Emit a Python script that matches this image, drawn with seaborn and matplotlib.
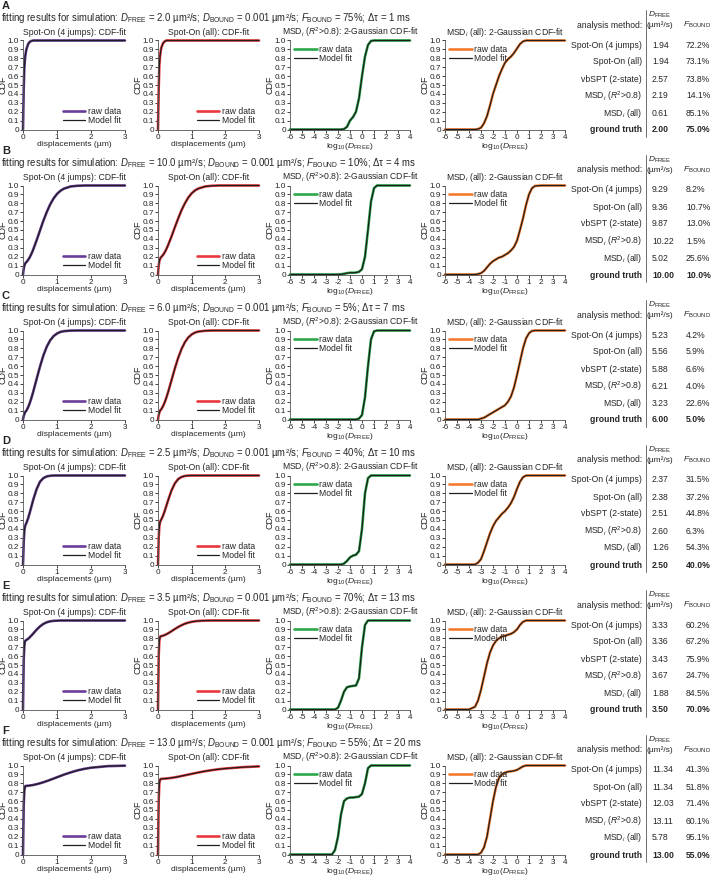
import matplotlib
matplotlib.use("Agg")
import matplotlib.pyplot as plt
import seaborn as sns

# ---------------- data ----------------
ROW_LETTERS = ["A", "B", "C", "D", "E", "F"]
SIM_D_FREE = ["2.0", "10.0", "6.0", "2.5", "3.5", "13.0"]
SIM_F_BOUND = ["75%", "10%", "5%", "40%", "70%", "55%"]
SIM_DT = ["1", "4", "7", "10", "13", "20"]

METHODS = ["Spot-On (4 jumps)", "Spot-On (all)", "vbSPT (2-state)",
           r"MSD$_i$ ($R^2$>0.8)", r"MSD$_i$ (all)", "ground truth"]
EST_D_FREE = [
    ["1.94", "1.94", "2.57", "2.19", "0.61", "2.00"],
    ["9.29", "9.36", "9.87", "10.22", "5.02", "10.00"],
    ["5.23", "5.56", "5.88", "6.21", "3.23", "6.00"],
    ["2.37", "2.38", "2.51", "2.60", "1.26", "2.50"],
    ["3.33", "3.36", "3.43", "3.67", "1.88", "3.50"],
    ["11.34", "11.34", "12.03", "13.11", "5.78", "13.00"],
]
EST_F_BOUND = [
    ["72.2%", "73.1%", "73.8%", "14.1%", "85.1%", "75.0%"],
    ["8.2%", "10.7%", "13.0%", "1.5%", "25.6%", "10.0%"],
    ["4.2%", "5.9%", "6.6%", "4.0%", "22.6%", "5.0%"],
    ["31.5%", "37.2%", "44.8%", "6.3%", "54.3%", "40.0%"],
    ["60.2%", "67.2%", "75.9%", "24.7%", "84.5%", "70.0%"],
    ["41.3%", "51.8%", "71.4%", "60.1%", "95.1%", "55.0%"],
]

# displacement CDFs (x in um)
DISP_X = [0, 0.01, 0.02, 0.04, 0.06, 0.08, 0.1, 0.15, 0.2, 0.25, 0.3, 0.4, 0.5,
          0.6, 0.7, 0.8, 0.9, 1.0, 1.1, 1.2, 1.4, 1.6, 1.8, 2.0, 2.5, 3.0]
JUMP4_A = [0, 0.2, 0.45, 0.7, 0.8, 0.86, 0.9, 0.96, 0.985, 0.995, 1.0,
           1, 1, 1, 1, 1, 1, 1, 1, 1, 1, 1, 1, 1, 1, 1]
JUMPALL_A = [0, 0.2, 0.45, 0.72, 0.82, 0.88, 0.92, 0.97, 0.99, 1.0, 1.0,
             1, 1, 1, 1, 1, 1, 1, 1, 1, 1, 1, 1, 1, 1, 1]
JUMP4_B = [0, 0.03, 0.06, 0.1, 0.12, 0.132, 0.139, 0.163, 0.195, 0.234, 0.28, 0.384, 0.495,
           0.605, 0.703, 0.788, 0.855, 0.905, 0.94, 0.964, 0.989, 0.997, 1, 1, 1, 1]
JUMPALL_B = [0, 0.05, 0.1, 0.15, 0.175, 0.19, 0.198, 0.22, 0.25, 0.287, 0.33, 0.426, 0.53,
             0.63, 0.724, 0.8, 0.865, 0.912, 0.945, 0.966, 0.989, 0.997, 1, 1, 1, 1]
JUMP4_C = [0, 0.02, 0.04, 0.06, 0.081, 0.09, 0.1, 0.137, 0.186, 0.245, 0.311, 0.454, 0.595,
           0.72, 0.819, 0.89, 0.937, 0.966, 0.984, 0.992, 0.999, 1, 1, 1, 1, 1]
JUMPALL_C = [0, 0.025, 0.05, 0.075, 0.1, 0.107, 0.117, 0.15, 0.194, 0.247, 0.307, 0.439, 0.573,
             0.694, 0.793, 0.869, 0.922, 0.956, 0.977, 0.988, 0.997, 1, 1, 1, 1, 1]
JUMP4_D = [0, 0.1, 0.25, 0.38, 0.43, 0.45, 0.466, 0.519, 0.584, 0.655, 0.726, 0.847, 0.93,
           0.971, 0.99, 0.997, 1, 1, 1, 1, 1, 1, 1, 1, 1, 1]
JUMPALL_D = [0, 0.12, 0.3, 0.43, 0.475, 0.494, 0.507, 0.548, 0.602, 0.661, 0.721, 0.831, 0.911,
             0.96, 0.984, 0.995, 0.999, 1, 1, 1, 1, 1, 1, 1, 1, 1]
JUMP4_E = [0, 0.25, 0.55, 0.72, 0.769, 0.777, 0.781, 0.794, 0.812, 0.832, 0.853, 0.897, 0.934,
           0.962, 0.98, 0.991, 0.996, 0.998, 1, 1, 1, 1, 1, 1, 1, 1]
JUMPALL_E = [0, 0.27, 0.6, 0.77, 0.817, 0.823, 0.824, 0.83, 0.837, 0.846, 0.856, 0.879, 0.904,
             0.927, 0.947, 0.964, 0.976, 0.985, 0.991, 0.995, 0.999, 1, 1, 1, 1, 1]
JUMP4_F = [0, 0.25, 0.55, 0.72, 0.765, 0.771, 0.771, 0.773, 0.775, 0.778, 0.781, 0.79, 0.8,
           0.812, 0.825, 0.839, 0.853, 0.868, 0.882, 0.897, 0.922, 0.945, 0.962, 0.975, 0.993, 0.998]
JUMPALL_F = [0, 0.3, 0.6, 0.8, 0.84, 0.848, 0.85, 0.851, 0.853, 0.854, 0.856, 0.861, 0.867,
             0.874, 0.882, 0.89, 0.898, 0.906, 0.914, 0.922, 0.936, 0.948, 0.958, 0.966, 0.981, 0.99]

# MSD_i CDFs (x = log10 D_FREE)
LOGD_X = [-6, -5, -4, -3.5, -3.25, -3, -2.75, -2.5, -2.25, -2, -1.75, -1.5, -1.25, -1,
          -0.75, -0.5, -0.25, 0, 0.25, 0.5, 0.75, 1, 1.25, 1.5, 2, 3, 4]
MSDR2_A = [0, 0, 0, 0, 0, 0, 0, 0, 0, 0, 0, 0.005, 0.03, 0.1,
           0.14, 0.2, 0.35, 0.6, 0.82, 0.95, 0.995, 1, 1, 1, 1, 1, 1]
MSDALL_A = [0, 0, 0, 0, 0.005, 0.02, 0.07, 0.15, 0.27, 0.4, 0.5, 0.6, 0.68, 0.75,
            0.79, 0.82, 0.86, 0.91, 0.96, 0.99, 1, 1, 1, 1, 1, 1, 1]
MSDR2_B = [0, 0, 0, 0, 0, 0, 0, 0, 0, 0, 0.003, 0.008, 0.015, 0.02,
           0.02, 0.022, 0.03, 0.06, 0.2, 0.5, 0.82, 0.97, 1, 1, 1, 1, 1]
MSDALL_B = [0, 0, 0, 0, 0.005, 0.015, 0.04, 0.08, 0.12, 0.15, 0.17, 0.19, 0.2, 0.22,
            0.24, 0.27, 0.31, 0.38, 0.5, 0.63, 0.78, 0.9, 0.97, 0.995, 1, 1, 1]
MSDR2_C = [0, 0, 0, 0, 0, 0, 0, 0, 0, 0, 0, 0, 0, 0,
           0, 0, 0.01, 0.05, 0.25, 0.6, 0.9, 0.99, 1, 1, 1, 1, 1]
MSDALL_C = [0, 0, 0, 0, 0, 0.01, 0.02, 0.04, 0.06, 0.08, 0.1, 0.12, 0.14, 0.16,
            0.2, 0.26, 0.36, 0.5, 0.65, 0.8, 0.91, 0.97, 0.995, 1, 1, 1, 1]
MSDR2_D = [0, 0, 0, 0, 0, 0, 0, 0, 0, 0, 0, 0.01, 0.04, 0.08,
           0.1, 0.11, 0.15, 0.4, 0.8, 0.97, 1, 1, 1, 1, 1, 1, 1]
MSDALL_D = [0, 0, 0, 0, 0.02, 0.06, 0.15, 0.25, 0.35, 0.43, 0.49, 0.53, 0.57, 0.6,
            0.64, 0.69, 0.76, 0.85, 0.93, 0.98, 1, 1, 1, 1, 1, 1, 1]
MSDR2_E = [0, 0, 0, 0, 0, 0, 0, 0, 0, 0.02, 0.1, 0.2, 0.25, 0.26,
           0.265, 0.27, 0.35, 0.7, 0.95, 1, 1, 1, 1, 1, 1, 1, 1]
MSDALL_E = [0, 0, 0, 0.03, 0.1, 0.22, 0.37, 0.52, 0.64, 0.72, 0.77, 0.8, 0.82, 0.83,
            0.84, 0.85, 0.87, 0.9, 0.95, 0.985, 1, 1, 1, 1, 1, 1, 1]
MSDR2_F = [0, 0, 0, 0, 0, 0, 0, 0, 0.05, 0.2, 0.45, 0.6, 0.63, 0.64,
           0.64, 0.645, 0.65, 0.68, 0.8, 0.97, 1, 1, 1, 1, 1, 1, 1]
MSDALL_F = [0, 0, 0, 0, 0, 0.02, 0.08, 0.2, 0.4, 0.6, 0.76, 0.86, 0.9, 0.92,
            0.93, 0.935, 0.94, 0.95, 0.97, 0.99, 1, 1, 1, 1, 1, 1, 1]

JUMP4 = [JUMP4_A, JUMP4_B, JUMP4_C, JUMP4_D, JUMP4_E, JUMP4_F]
JUMPALL = [JUMPALL_A, JUMPALL_B, JUMPALL_C, JUMPALL_D, JUMPALL_E, JUMPALL_F]
MSDR2 = [MSDR2_A, MSDR2_B, MSDR2_C, MSDR2_D, MSDR2_E, MSDR2_F]
MSDALL = [MSDALL_A, MSDALL_B, MSDALL_C, MSDALL_D, MSDALL_E, MSDALL_F]

PANEL_TITLES = ["Spot-On (4 jumps): CDF-fit", "Spot-On (all): CDF-fit",
                r"MSD$_i$ ($R^2$>0.8): 2-Gaussian CDF-fit", r"MSD$_i$ (all): 2-Gaussian CDF-fit"]
PANEL_COLORS = ["#6a3d9a", "#e8383d", "#2aa84a", "#f47a2e"]
Y_TICKS = [0, 0.1, 0.2, 0.3, 0.4, 0.5, 0.6, 0.7, 0.8, 0.9, 1.0]
Y_TICKLABELS = ["0", "0.1", "0.2", "0.3", "0.4", "0.5", "0.6", "0.7", "0.8", "0.9", "1.0"]
DISP_TICKS = [0, 1, 2, 3]
LOGD_TICKS = [-6, -5, -4, -3, -2, -1, 0, 1, 2, 3, 4]

# ---------------- style ----------------
sns.set_theme(style="ticks")
plt.rcParams["font.family"] = ["Liberation Sans", "DejaVu Sans"]
plt.rcParams["axes.unicode_minus"] = False
plt.rcParams["mathtext.fontset"] = "custom"
plt.rcParams["mathtext.rm"] = "Liberation Sans"
plt.rcParams["mathtext.it"] = "Liberation Sans:italic"
plt.rcParams["mathtext.bf"] = "Liberation Sans:bold"

W, H = 711, 876
fig = plt.figure(figsize=(W / 100, H / 100), dpi=100)


def px_axes(left, top, width, height):
    return fig.add_axes([left / W, 1 - (top + height) / H, width / W, height / H])


def px_text(x, y, s, **kw):
    fig.text(x / W, 1 - y / H, s, **kw)


PANEL_X = [(23, 102), (158, 101), (290, 120), (445, 120)]
ROW_PITCH = 145

for r, letter in enumerate(ROW_LETTERS):
    y0 = r * ROW_PITCH
    px_text(2, y0 + 6, letter, fontsize=8, fontweight="bold", va="center", ha="left")
    title = (r"fitting results for simulation: $D_{\rm FREE}$ = " + SIM_D_FREE[r]
             + r" µm²/s; $D_{\rm BOUND}$ = 0.001 µm²/s; $F_{\rm BOUND}$ = "
             + SIM_F_BOUND[r] + "; Δτ = " + SIM_DT[r] + " ms")
    px_text(1, y0 + 18, title, fontsize=6.9, va="center", ha="left")

    curves = [(DISP_X, JUMP4[r]), (DISP_X, JUMPALL[r]), (LOGD_X, MSDR2[r]), (LOGD_X, MSDALL[r])]
    for p, (xs, ys) in enumerate(curves):
        left, width = PANEL_X[p]
        ax = px_axes(left, y0 + 40.5, width, 89)
        sns.lineplot(x=xs, y=ys, ax=ax, color=PANEL_COLORS[p], lw=1.9,
                     estimator=None, sort=False, label="raw data", clip_on=False)
        sns.lineplot(x=xs, y=ys, ax=ax, color="#1e1e1e", lw=0.9,
                     estimator=None, sort=False, label="Model fit", clip_on=False)
        ax.set_ylim(0, 1.0)
        ax.set_yticks(Y_TICKS)
        ax.set_yticklabels(Y_TICKLABELS)
        if p < 2:
            ax.set_xlim(0, 3)
            ax.set_xticks(DISP_TICKS)
            ax.set_xlabel("displacements (µm)", fontsize=6.1, labelpad=0)
            loc = "lower right"
        else:
            ax.set_xlim(-6, 4)
            ax.set_xticks(LOGD_TICKS)
            ax.set_xlabel(r"log$_{10}$($D_{\rm FREE}$)", fontsize=6.1, labelpad=0)
            loc = "upper left"
        ax.set_ylabel("CDF", fontsize=6.5, labelpad=0)
        ax.set_title(PANEL_TITLES[p], fontsize=6.2, pad=4)
        ax.tick_params(labelsize=5.9, length=2, width=0.6, pad=1, colors="#222222")
        for side in ["top", "right"]:
            ax.spines[side].set_visible(False)
        for side in ["left", "bottom"]:
            ax.spines[side].set_linewidth(0.6)
            ax.spines[side].set_color("#555555")
        ax.legend(loc=loc, frameon=False, fontsize=6.2, handlelength=2.6,
                  handletextpad=0.3, borderaxespad=0.1, labelspacing=0.05)

    # summary table
    px_text(660, y0 + 15, r"$D_{\rm FREE}$", fontsize=6, ha="center", va="center")
    px_text(660, y0 + 25, "(µm²/s)", fontsize=6, ha="center", va="center")
    px_text(642, y0 + 25, "analysis method:", fontsize=6.2, ha="right", va="center")
    px_text(697, y0 + 25, r"$F_{\rm BOUND}$", fontsize=6, ha="center", va="center")
    for k, m in enumerate(METHODS):
        yy = y0 + 45 + k * 17
        weight = "bold" if k == len(METHODS) - 1 else "normal"
        px_text(642, yy, m, fontsize=6.2, ha="right", va="center", fontweight=weight)
        px_text(652, yy, EST_D_FREE[r][k], fontsize=6.2, ha="left", va="center", fontweight=weight)
        px_text(686, yy, EST_F_BOUND[r][k], fontsize=6.2, ha="left", va="center", fontweight=weight)
    fig.add_artist(plt.Line2D([646 / W, 646 / W], [1 - (y0 + 10) / H, 1 - (y0 + 137) / H],
                              color="#555555", lw=0.6))

fig.savefig("out.png", dpi=100)
